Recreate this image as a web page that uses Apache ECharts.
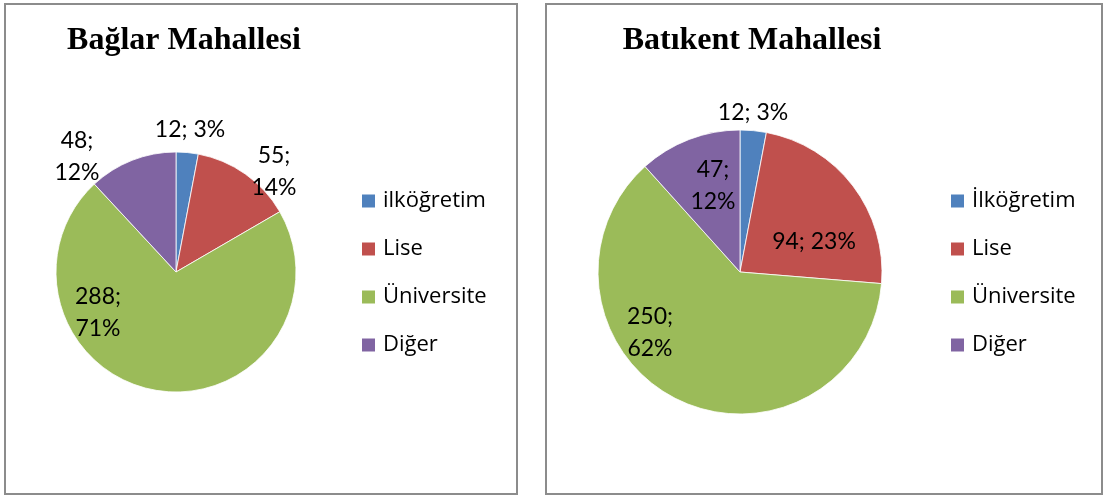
<!DOCTYPE html>
<html>
<head>
<meta charset="utf-8">
<script src="https://cdn.jsdelivr.net/npm/echarts@6/dist/echarts.min.js"></script>
<style>
html,body{margin:0;padding:0;background:#fff;}
#one{width:1107px;height:498px;}
</style>
</head>
<body>
<div id="one"></div>
<script>
// veriler
var baglarNames = ['ilköğretim', 'Lise', 'Üniversite', 'Diğer'];
var baglarValues = [12, 55, 288, 48];
var batikentNames = ['İlköğretim', 'Lise', 'Üniversite', 'Diğer'];
var batikentValues = [12, 94, 250, 47];
var colors = ['#4F81BD', '#C0504D', '#9BBB59', '#8064A2'];

// etiket yerleri (pasta merkezine göre) ve satır kırma
var baglarLabelOff = [[14, -142], [98, -100], [-78, 41], [-99, -115]];
var baglarWrap = [false, true, true, true];
var batikentLabelOff = [[13, -159], [74, -30], [-90, 61], [-27, -86]];
var batikentWrap = [false, false, true, true];

var mainContainer = document.getElementById('one');
var pie_Chart = echarts.init(mainContainer);

function toData(names, vals) {
    return names.map(function (n, i) { return { name: n, value: vals[i] }; });
}

function makePie(names, vals, center, r, offs, wrap) {
    return {
        type: 'pie',
        center: center,
        radius: r,
        startAngle: 90,
        clockwise: true,
        percentPrecision: 0,
        avoidLabelOverlap: false,
        color: colors,
        itemStyle: { borderColor: '#fff', borderWidth: 0.8 },
        label: {
            show: true,
            position: 'inside',
            color: '#000',
            fontFamily: 'Lato',
            fontSize: 23,
            lineHeight: 32,
            formatter: function (p) {
                return p.value + ';' + (wrap[p.dataIndex] ? '\n' : ' ') + p.percent + '%';
            }
        },
        labelLine: { show: false },
        labelLayout: function (p) {
            var o = offs[p.dataIndex];
            return { x: center[0] + o[0], y: center[1] + o[1], align: 'center', verticalAlign: 'middle' };
        },
        emphasis: { disabled: true },
        data: toData(names, vals)
    };
}

var legendStyle = {
    orient: 'vertical',
    icon: 'rect',
    itemWidth: 15,
    itemHeight: 15,
    itemGap: 24,
    padding: 0,
    textStyle: { fontFamily: 'Open Sans', fontSize: 22, lineHeight: 24, color: '#000', padding: [0, 0, 0, 2] },
    selectedMode: false
};

var pie_Chart_option = {
    animation: false,
    title: [{
        text: 'Bağlar Mahallesi',
        left: 184, top: 25, padding: 0,
        textAlign: 'center',
        textStyle: { fontFamily: 'Liberation Serif', fontSize: 32, fontWeight: 'bold', color: '#000' }
    }, {
        text: 'Batıkent Mahallesi',
        left: 752, top: 25, padding: 0,
        textAlign: 'center',
        textStyle: { fontFamily: 'Liberation Serif', fontSize: 32, fontWeight: 'bold', color: '#000' }
    }],
    legend: [
        Object.assign({ left: 360, top: 189, data: baglarNames }, legendStyle),
        Object.assign({ left: 949, top: 189, data: batikentNames }, legendStyle)
    ],
    graphic: [
        { type: 'rect', shape: { x: 5, y: 4, width: 512, height: 490 }, style: { fill: 'none', stroke: '#8c8c8c', lineWidth: 2 } },
        { type: 'rect', shape: { x: 546, y: 4, width: 556, height: 490 }, style: { fill: 'none', stroke: '#8c8c8c', lineWidth: 2 } }
    ],
    series: [
        makePie(baglarNames, baglarValues, [176, 272], 120, baglarLabelOff, baglarWrap),
        makePie(batikentNames, batikentValues, [740, 272], 142, batikentLabelOff, batikentWrap)
    ]
};
pie_Chart.setOption(pie_Chart_option);
</script>
</body>
</html>
